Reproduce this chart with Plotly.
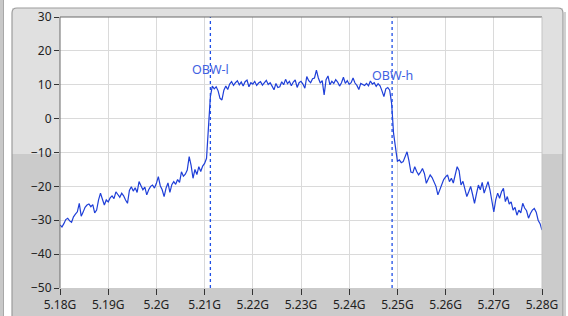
import plotly.graph_objects as go

# ---- data ----
freq_start_ghz = 5.18
freq_step_ghz = 0.0004

left_skirt = [
    -31.4, -32.0, -31.0, -29.8, -29.4, -30.2, -30.6, -29.0, -28.2, -27.5,
    -25.0, -28.8, -27.6, -26.2, -25.5, -25.2, -26.0, -25.4, -27.8, -27.0,
    -24.0, -22.0, -23.8, -25.5, -24.0, -24.6, -23.4, -22.8, -23.6, -21.6,
    -22.4, -23.2, -22.0, -22.8, -24.0, -25.0, -21.2, -20.1, -21.4, -20.4,
    -21.8, -18.6, -19.8, -21.0, -20.2, -22.5, -21.0, -20.0, -19.6, -20.5,
    -19.1, -17.1, -19.8, -21.0, -23.0, -20.5, -19.0, -21.8, -19.5, -18.6,
    -19.4, -18.0, -18.8, -15.7, -17.0, -16.4, -15.2, -11.2, -13.8, -17.6,
    -15.0, -16.5, -14.2, -15.6, -14.0, -13.2, -11.7,
]
channel = [
    -0.9, 6.5, 9.6,
    8.8, 9.4, 8.2, 6.0, 5.5, 8.4, 9.6, 8.6, 10.2, 10.9,
    9.8, 10.6, 11.2, 10.0, 10.8, 9.6, 10.9, 11.4, 9.4, 10.6,
    10.2, 11.0, 9.8, 10.5, 10.9, 9.9, 10.7, 11.3, 10.1, 10.6,
    9.6, 8.5, 10.4, 9.2, 9.4, 10.9, 10.0, 11.6, 10.3, 11.0,
    9.7, 10.8, 11.4, 9.2, 10.6, 11.0, 10.2, 9.0, 12.4, 11.2,
    10.6, 11.8, 12.0, 14.3, 12.0, 10.5, 11.2, 7.0, 11.5, 12.6,
    10.0, 11.0, 10.4, 11.5, 10.8, 9.6, 10.6, 12.2, 10.4, 11.2,
    10.1, 10.6, 12.0, 10.5, 9.8, 8.6, 10.4, 10.2, 9.8, 10.4,
    9.7, 11.1, 10.2, 10.6, 9.5, 10.3, 9.7, 8.2, 6.5, 8.8,
    9.2, 8.4, 4.5, -4.3, -9.3,
]
right_skirt = [
    -12.6, -12.2, -13.0, -12.7, -11.0, -9.8, -12.5, -15.8, -16.0,
    -14.2, -15.6, -16.6, -15.8, -14.7, -16.2, -19.1, -17.8, -16.6, -17.4,
    -18.6, -20.0, -22.5, -21.0, -19.6, -18.0, -17.2, -16.6, -18.6, -17.6,
    -19.0, -16.5, -14.2, -15.4, -19.6, -18.5, -21.0, -23.0, -21.6, -20.0,
    -22.4, -25.0, -22.2, -19.6, -21.0, -18.8, -22.0, -20.4, -18.6, -21.0,
    -24.0, -27.5, -24.0, -22.0, -23.5, -21.6, -20.6, -24.5, -23.0, -25.2,
    -24.6, -27.0, -26.2, -28.5, -27.0, -27.8, -25.0, -26.4, -27.2, -29.4,
    -28.0, -27.0, -26.5, -27.6, -30.0, -31.0, -32.9,
]

obw_low_ghz = 5.2112
obw_high_ghz = 5.2489
obw_labels = ["OBW-l", "OBW-h"]
obw_label_levels = [14.4, 12.6]

x_tick_vals = [5.18, 5.19, 5.20, 5.21, 5.22, 5.23, 5.24, 5.25, 5.26, 5.27, 5.28]
x_tick_text = ["5.18G", "5.19G", "5.2G", "5.21G", "5.22G", "5.23G", "5.24G",
               "5.25G", "5.26G", "5.27G", "5.28G"]
y_tick_vals = [30, 20, 10, 0, -10, -20, -30, -40, -50]

power = left_skirt + channel + right_skirt
freq = [freq_start_ghz + i * freq_step_ghz for i in range(len(power))]

# ---- geometry ----
W, H = 568, 316
L, R, T, B = 60, 542, 17, 288


def px(x):
    return (x - L) / (R - L)


def py(y):
    return (B - y) / (B - T)


fig = go.Figure()

fig.add_trace(go.Scatter(
    x=freq, y=power, mode="lines",
    line=dict(color="#1f3fd8", width=1.2),
    hoverinfo="skip", showlegend=False,
))
for xv in (obw_low_ghz, obw_high_ghz):
    fig.add_trace(go.Scatter(
        x=[xv, xv], y=[-50, 30], mode="lines",
        line=dict(color="#1f4fe6", width=1.3, dash="3px,3px"),
        hoverinfo="skip", showlegend=False,
    ))

shapes = []
shapes.append(dict(type="rect", xref="paper", yref="paper",
                   x0=px(0), x1=px(3), y0=py(0), y1=py(H),
                   fillcolor="#c8c8c8", line=dict(width=0), layer="below"))
shapes.append(dict(type="line", xref="paper", yref="paper",
                   x0=px(3.5), x1=px(3.5), y0=py(0), y1=py(H),
                   line=dict(color="#a8a8a8", width=1), layer="below"))
shapes.append(dict(type="rect", xref="paper", yref="paper",
                   x0=px(12), x1=px(563), y0=py(8), y1=py(154),
                   fillcolor="#e0e0e0", line=dict(width=0), layer="below"))
shapes.append(dict(type="rect", xref="paper", yref="paper",
                   x0=px(12), x1=px(563), y0=py(154), y1=py(H + 2),
                   fillcolor="#cbcbcb", line=dict(width=0), layer="below"))
r = 5
path = (f"M {px(12)},{py(H + 2)} L {px(12)},{py(8 + r)} "
        f"Q {px(12)},{py(8)} {px(12 + r)},{py(8)} "
        f"L {px(563 - r)},{py(8)} Q {px(563)},{py(8)} {px(563)},{py(8 + r)} "
        f"L {px(563)},{py(H + 2)}")
shapes.append(dict(type="path", xref="paper", yref="paper", path=path,
                   line=dict(color="#9c9c9c", width=1.2), layer="below"))
shapes.append(dict(type="line", xref="paper", yref="paper",
                   x0=px(565), x1=px(565), y0=py(12), y1=py(H),
                   line=dict(color="#d0d0d0", width=2), layer="below"))
shapes.append(dict(type="rect", xref="paper", yref="paper",
                   x0=0, x1=1, y0=0, y1=1,
                   fillcolor="white", line=dict(width=0), layer="below"))
shapes.append(dict(type="line", xref="paper", yref="paper",
                   x0=0, x1=1, y0=1, y1=1,
                   line=dict(color="#6a6a6a", width=1), layer="above"))
shapes.append(dict(type="line", xref="paper", yref="paper",
                   x0=0, x1=0, y0=0, y1=1,
                   line=dict(color="#6a6a6a", width=1), layer="above"))
shapes.append(dict(type="line", xref="paper", yref="paper",
                   x0=1, x1=1, y0=0, y1=1,
                   line=dict(color="#c4c4c4", width=1), layer="above"))

annotations = []
for xv, txt, lvl in zip((obw_low_ghz, obw_high_ghz), obw_labels, obw_label_levels):
    annotations.append(dict(x=xv, y=lvl, xref="x", yref="y", text=txt,
                            showarrow=False, xanchor="center", yanchor="middle",
                            font=dict(family="Noto Sans", size=12.5, color="#3f62e2")))

fig.update_layout(
    template="none",
    width=W, height=H, autosize=False,
    margin=dict(l=L, r=W - R, t=T, b=H - B, pad=0, autoexpand=False),
    paper_bgcolor="white", plot_bgcolor="white",
    shapes=shapes, annotations=annotations,
    font=dict(family="Noto Sans", size=12, color="#222222"),
    showlegend=False,
)
fig.update_xaxes(
    range=[5.18, 5.28], tickmode="array", tickvals=x_tick_vals, ticktext=x_tick_text,
    showgrid=True, gridcolor="#dadada", gridwidth=1, automargin=False,
    ticks="outside", ticklen=6, tickcolor="#333333", tickwidth=1,
    zeroline=False, showline=False, fixedrange=True,
    tickfont=dict(family="Noto Sans", size=12, color="#222222"),
)
fig.update_yaxes(
    range=[-50, 30], tickmode="array", tickvals=y_tick_vals,
    showgrid=True, gridcolor="#dadada", gridwidth=1, automargin=False,
    ticks="outside", ticklen=5, tickcolor="#333333", tickwidth=1,
    zeroline=False, showline=False, fixedrange=True,
    tickfont=dict(family="Noto Sans", size=12, color="#222222"),
)

fig.write_html(
    "out.html",
    config={"displayModeBar": False},
    post_script="document.body.style.margin='0';document.body.style.overflow='hidden';",
)
